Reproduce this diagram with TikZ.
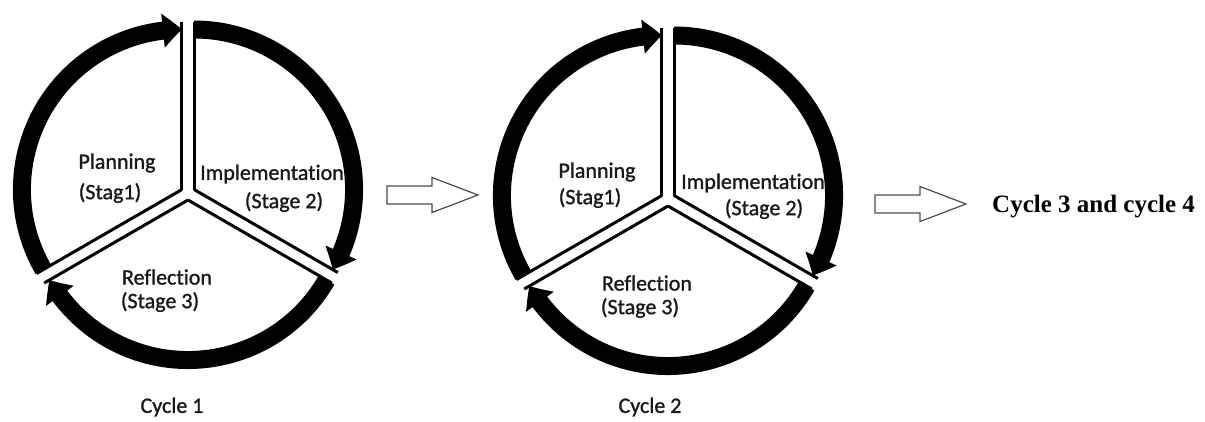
\documentclass[tikz,border=0pt]{standalone}
\usepackage{fontspec}
\setmainfont{Carlito}[Ligatures=NoCommon, FakeBold=1.2]
\newfontfamily\headfont{Liberation Serif}
\usetikzlibrary{arrows.meta,bending}

% one three-stage wheel: #1 name, (#2,#3) centre
\newcommand\stagewheel[3]{%
  \begin{scope}[shift={(#2,#3)}]
    \coordinate (#1) at (0,0);
    \coordinate (#1-plan) at (150:7);
    \coordinate (#1-impl) at (30:7);
    \coordinate (#1-refl) at (270:7);
    % sector edges
    \draw[edge] (#1-plan) -- ++(90:168);
    \draw[edge] (#1-plan) -- ++(210:168);
    \draw[edge] (#1-impl) -- ++(90:168);
    \draw[edge] (#1-impl) -- ++(-30:166);
    \draw[edge] (#1-refl) -- ++(-30:166);
    \draw[edge] (#1-refl) -- ++(210:166);
    % clockwise arcs
    \draw[ring] ([shift={(210:160)}]#1-plan) arc[start angle=210, end angle=90, radius=160];
    \draw[ring] ([shift={(90:160)}]#1-impl) arc[start angle=90, end angle=-30, radius=160];
    \draw[ring] ([shift={(-30:160)}]#1-refl) arc[start angle=-30, end angle=-150, radius=160];
  \end{scope}}

\tikzset{
  edge/.style={line width=3pt, black},
  ring/.style={line width=18pt, black, -{Triangle[width=33pt,length=19pt,bend]}},
  lbl/.style={font=\fontsize{22}{26}\selectfont, text=black!90, inner sep=0pt},
  nexttext/.style={font=\headfont\bfseries\fontsize{25}{30}\selectfont, inner sep=0pt, anchor=base west},
  blockarrow/.pic={
    \draw[line width=1.2pt, draw=black!70, fill=white]
      (0,-9) -- (45,-9) -- (45,-17.5) -- (91,0) -- (45,17.5) -- (45,9) -- (0,9) -- cycle;
  }
}

\begin{document}
\begin{tikzpicture}[x=1pt, y=1pt]
  \useasboundingbox[fill=white] (0,0) rectangle (1205,-421);

  % cycle 1
  \stagewheel{wa}{188}{-193}
  \node[lbl] (wa-t1) at (117,-163) {Planning};
  \node[lbl] (wa-t2) at (110,-193) {(Stag1)};
  \node[lbl] (wa-t3) at (272,-174) {Implementation};
  \node[lbl] (wa-t4) at (284,-202) {(Stage 2)};
  \node[lbl] (wa-t5) at (167,-277) {Reflection};
  \node[lbl] (wa-t6) at (160,-302) {(Stage 3)};
  \node[lbl] (wa-cap) at (172,-407) {Cycle 1};

  \pic at (387,-195) {blockarrow};

  % cycle 2
  \stagewheel{wb}{668}{-199}
  \node[lbl] (wb-t1) at (597,-172) {Planning};
  \node[lbl] (wb-t2) at (590,-198) {(Stag1)};
  \node[lbl] (wb-t3) at (753,-183) {Implementation};
  \node[lbl] (wb-t4) at (764,-209) {(Stage 2)};
  \node[lbl] (wb-t5) at (647,-283) {Reflection};
  \node[lbl] (wb-t6) at (640,-308) {(Stage 3)};
  \node[lbl] (wb-cap) at (650,-407) {Cycle 2};

  \pic at (875,-204) {blockarrow};

  \node[nexttext] (next) at (992,-212) {Cycle 3 and cycle 4};
\end{tikzpicture}
\end{document}
